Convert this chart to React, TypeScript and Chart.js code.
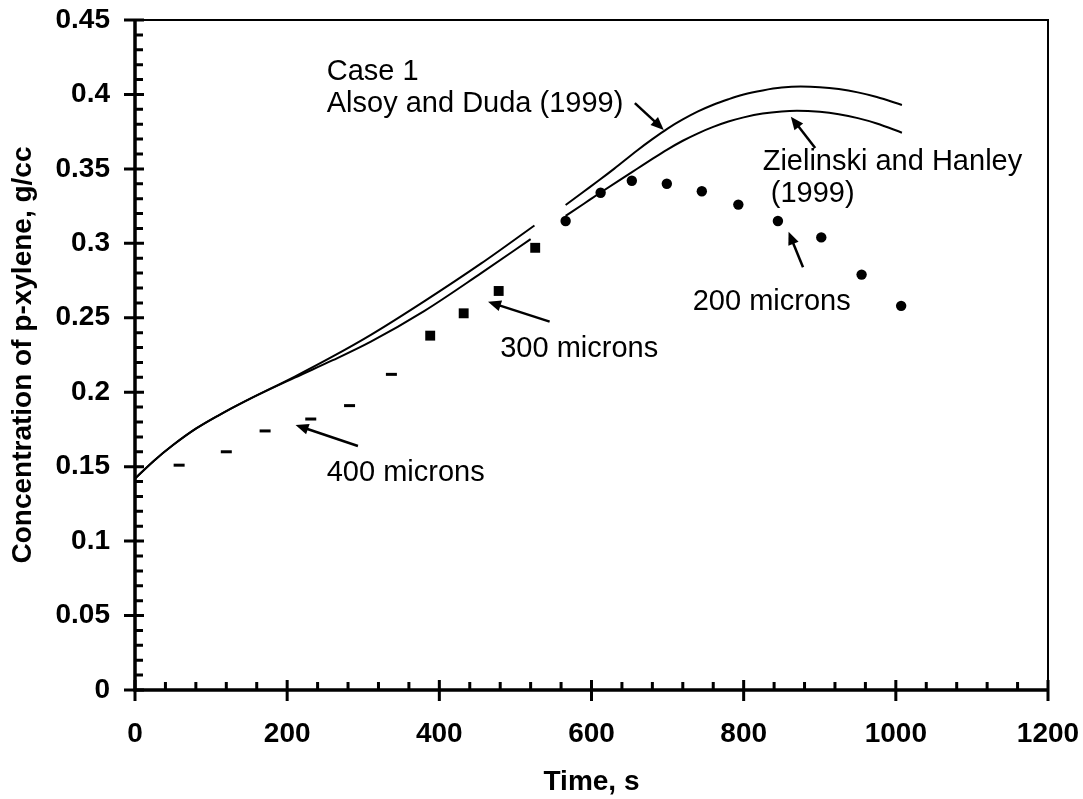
import React, { useEffect, useRef } from 'react';
import { Chart, registerables } from 'chart.js';

Chart.register(...registerables);

// ---- Data ----
const xTickLabels = ['0', '200', '400', '600', '800', '1000', '1200'];
const yTickLabels = ['0', '0.05', '0.1', '0.15', '0.2', '0.25', '0.3', '0.35', '0.4', '0.45'];

// Alsoy and Duda (1999) model curve, two segments
const alsoyT1 = [0, 25, 50, 80, 110, 145, 210, 260, 310, 380, 455, 525];
const alsoyC1 = [0.142, 0.154, 0.1645, 0.1755, 0.1845, 0.194, 0.2105, 0.224, 0.2385, 0.261, 0.2865, 0.312];
const alsoyT2 = [566, 590, 609, 630, 660, 680, 700, 720, 740, 760, 780, 800, 825, 850, 875, 900, 925, 950, 975, 1008];
const alsoyC2 = [0.3257, 0.3348, 0.342, 0.3502, 0.3624, 0.37, 0.3771, 0.3832, 0.3886, 0.3931, 0.3968, 0.4, 0.4027, 0.4046, 0.4053, 0.4049, 0.4036, 0.4014, 0.3983, 0.3929];

// Zielinski and Hanley (1999) model curve, two segments
const zielT1 = [0, 25, 50, 80, 110, 145, 210, 260, 310, 380, 455, 520];
const zielC1 = [0.142, 0.154, 0.1645, 0.1755, 0.1845, 0.194, 0.2098, 0.2215, 0.234, 0.2545, 0.28, 0.3028];
const zielT2 = [566, 590, 611, 637, 660, 680, 699, 720, 740, 760, 780, 800, 825, 850, 870, 900, 925, 950, 975, 1008];
const zielC2 = [0.3184, 0.3266, 0.3338, 0.3425, 0.3501, 0.3567, 0.3628, 0.3689, 0.3739, 0.3782, 0.3818, 0.3846, 0.3872, 0.3886, 0.389, 0.3883, 0.3867, 0.3841, 0.3805, 0.3743];

// Experimental points
const t400 = [58, 120, 171, 231, 282, 337];
const c400 = [0.151, 0.160, 0.174, 0.182, 0.191, 0.212];
const t300 = [388, 432, 478, 526];
const c300 = [0.238, 0.253, 0.268, 0.297];
const t200 = [566, 612, 653, 699, 745, 793, 845, 902, 955, 1007];
const c200 = [0.315, 0.334, 0.342, 0.340, 0.335, 0.326, 0.315, 0.304, 0.279, 0.258];

// Annotations (data coordinates)
const noteTexts = ['Case 1', 'Alsoy and Duda (1999)', 'Zielinski and Hanley', ' (1999)', '200 microns', '300 microns', '400 microns'];
const noteX = [252, 252, 825, 825, 733, 480, 252];
const noteY = [0.4097, 0.3882, 0.3492, 0.3278, 0.2552, 0.2237, 0.1404];

const arrowFromX = [657, 894, 878, 545, 293];
const arrowFromY = [0.3942, 0.364, 0.2839, 0.2474, 0.1639];
const arrowToX = [695, 862, 859, 464, 211];
const arrowToY = [0.3762, 0.3851, 0.3078, 0.2608, 0.178];

const zip = (xs: number[], ys: number[]) => xs.map((x, i) => ({ x, y: ys[i] }));

const FONT = '"Liberation Sans", Arial, Helvetica, sans-serif';

const lineDs = (label: string, xs: number[], ys: number[]) => ({
  label,
  data: zip(xs, ys),
  showLine: true,
  borderColor: '#000',
  borderWidth: 2,
  pointRadius: 0,
  cubicInterpolationMode: 'monotone' as const,
  fill: false,
});

const axesPlugin = {
  id: 'axesAndNotes',
  afterDatasetsDraw(chart: any) {
    const { ctx, chartArea: a, scales } = chart;
    const xs = scales.x;
    const ys = scales.y;
    ctx.save();
    ctx.strokeStyle = '#000';
    ctx.fillStyle = '#000';
    ctx.lineCap = 'butt';

    // frame: top and right thin
    ctx.lineWidth = 2;
    ctx.beginPath();
    ctx.moveTo(a.left, a.top);
    ctx.lineTo(a.right, a.top);
    ctx.lineTo(a.right, a.bottom);
    ctx.stroke();

    // left and bottom axis lines, thicker
    ctx.lineWidth = 3.5;
    ctx.beginPath();
    ctx.moveTo(a.left, a.top - 1);
    ctx.lineTo(a.left, a.bottom + 1.5);
    ctx.moveTo(a.left - 1.5, a.bottom);
    ctx.lineTo(a.right + 1, a.bottom);
    ctx.stroke();

    // y ticks
    ctx.lineWidth = 3;
    ctx.beginPath();
    for (let i = 0; i <= 45; i++) {
      const v = i / 100;
      const py = ys.getPixelForValue(v);
      if (i % 5 === 0) {
        ctx.moveTo(a.left - 11, py);
        ctx.lineTo(a.left + 9, py);
      } else {
        ctx.moveTo(a.left, py);
        ctx.lineTo(a.left + 8, py);
      }
    }
    // x ticks
    for (let i = 0; i <= 30; i++) {
      const v = i * 40;
      const px = xs.getPixelForValue(v);
      if (i % 5 === 0) {
        ctx.moveTo(px, a.bottom + 11);
        ctx.lineTo(px, a.bottom - 10);
      } else {
        ctx.moveTo(px, a.bottom);
        ctx.lineTo(px, a.bottom - 8);
      }
    }
    ctx.stroke();

    // annotations
    ctx.font = `29px ${FONT}`;
    ctx.textAlign = 'left';
    ctx.textBaseline = 'alphabetic';
    noteTexts.forEach((t, i) => {
      ctx.fillText(t, xs.getPixelForValue(noteX[i]), ys.getPixelForValue(noteY[i]));
    });

    // arrows
    ctx.lineWidth = 2.5;
    arrowFromX.forEach((_, i) => {
      const x0 = xs.getPixelForValue(arrowFromX[i]);
      const y0 = ys.getPixelForValue(arrowFromY[i]);
      const x1 = xs.getPixelForValue(arrowToX[i]);
      const y1 = ys.getPixelForValue(arrowToY[i]);
      const ang = Math.atan2(y1 - y0, x1 - x0);
      const hl = 13;
      const hw = 5.5;
      const bx = x1 - hl * Math.cos(ang);
      const by = y1 - hl * Math.sin(ang);
      ctx.beginPath();
      ctx.moveTo(x0, y0);
      ctx.lineTo(bx + 2 * Math.cos(ang), by + 2 * Math.sin(ang));
      ctx.stroke();
      ctx.beginPath();
      ctx.moveTo(x1, y1);
      ctx.lineTo(bx + hw * Math.sin(ang), by - hw * Math.cos(ang));
      ctx.lineTo(bx - hw * Math.sin(ang), by + hw * Math.cos(ang));
      ctx.closePath();
      ctx.fill();
    });
    ctx.restore();
  },
};

export default function App() {
  const ref = useRef<HTMLCanvasElement>(null);
  useEffect(() => {
    document.body.style.margin = '0';
    const canvas = ref.current!;
    const chart = new Chart(canvas, {
      type: 'scatter',
      data: {
        datasets: [
          lineDs('Alsoy and Duda (1999)', alsoyT1, alsoyC1),
          lineDs('Alsoy and Duda (1999) b', alsoyT2, alsoyC2),
          lineDs('Zielinski and Hanley (1999)', zielT1, zielC1),
          lineDs('Zielinski and Hanley (1999) b', zielT2, zielC2),
          {
            label: '400 microns',
            data: zip(t400, c400),
            pointStyle: 'line',
            pointRadius: 5.5,
            borderWidth: 3,
            borderColor: '#000',
            backgroundColor: '#000',
          },
          {
            label: '300 microns',
            data: zip(t300, c300),
            pointStyle: 'rect',
            pointRadius: 7,
            borderWidth: 0,
            borderColor: '#000',
            backgroundColor: '#000',
          },
          {
            label: '200 microns',
            data: zip(t200, c200),
            pointStyle: 'circle',
            pointRadius: 5.2,
            borderWidth: 0,
            borderColor: '#000',
            backgroundColor: '#000',
          },
        ],
      },
      options: {
        responsive: false,
        animation: false,
        events: [],
        layout: { padding: { top: 20, right: 35, left: 0, bottom: 0 } },
        plugins: {
          legend: { display: false },
          tooltip: { enabled: false },
        },
        scales: {
          x: {
            type: 'linear',
            min: 0,
            max: 1200,
            grid: { display: false, drawTicks: false },
            border: { display: false },
            afterFit: (s: any) => { s.height = 109; s.paddingLeft = 0; s.paddingRight = 0; },
            ticks: {
              stepSize: 200,
              autoSkip: false,
              maxRotation: 0,
              padding: 27,
              color: '#000',
              font: { family: FONT, size: 28, weight: 'bold' },
              callback: (_v: any, i: number) => xTickLabels[i],
            },
            title: {
              display: true,
              text: 'Time, s',
              color: '#000',
              padding: { top: 0, bottom: 0 },
              font: { family: FONT, size: 28, weight: 'bold' },
            },
          },
          y: {
            type: 'linear',
            min: 0,
            max: 0.45,
            grid: { display: false, drawTicks: false },
            border: { display: false },
            afterFit: (s: any) => { s.width = 135; s.paddingTop = 0; s.paddingBottom = 0; },
            ticks: {
              stepSize: 0.05,
              autoSkip: false,
              padding: 25,
              color: '#000',
              font: { family: FONT, size: 28, weight: 'bold' },
              callback: (_v: any, i: number) => yTickLabels[i],
            },
            title: {
              display: true,
              text: 'Concentration of p-xylene, g/cc',
              color: '#000',
              padding: { top: 6, bottom: 0 },
              font: { family: FONT, size: 28, weight: 'bold' },
            },
          },
        },
      },
      plugins: [axesPlugin],
    } as any);
    return () => chart.destroy();
  }, []);
  return (
    <canvas ref={ref} width={1083} height={799} style={{ display: 'block', width: 1083, height: 799 }} />
  );
}
